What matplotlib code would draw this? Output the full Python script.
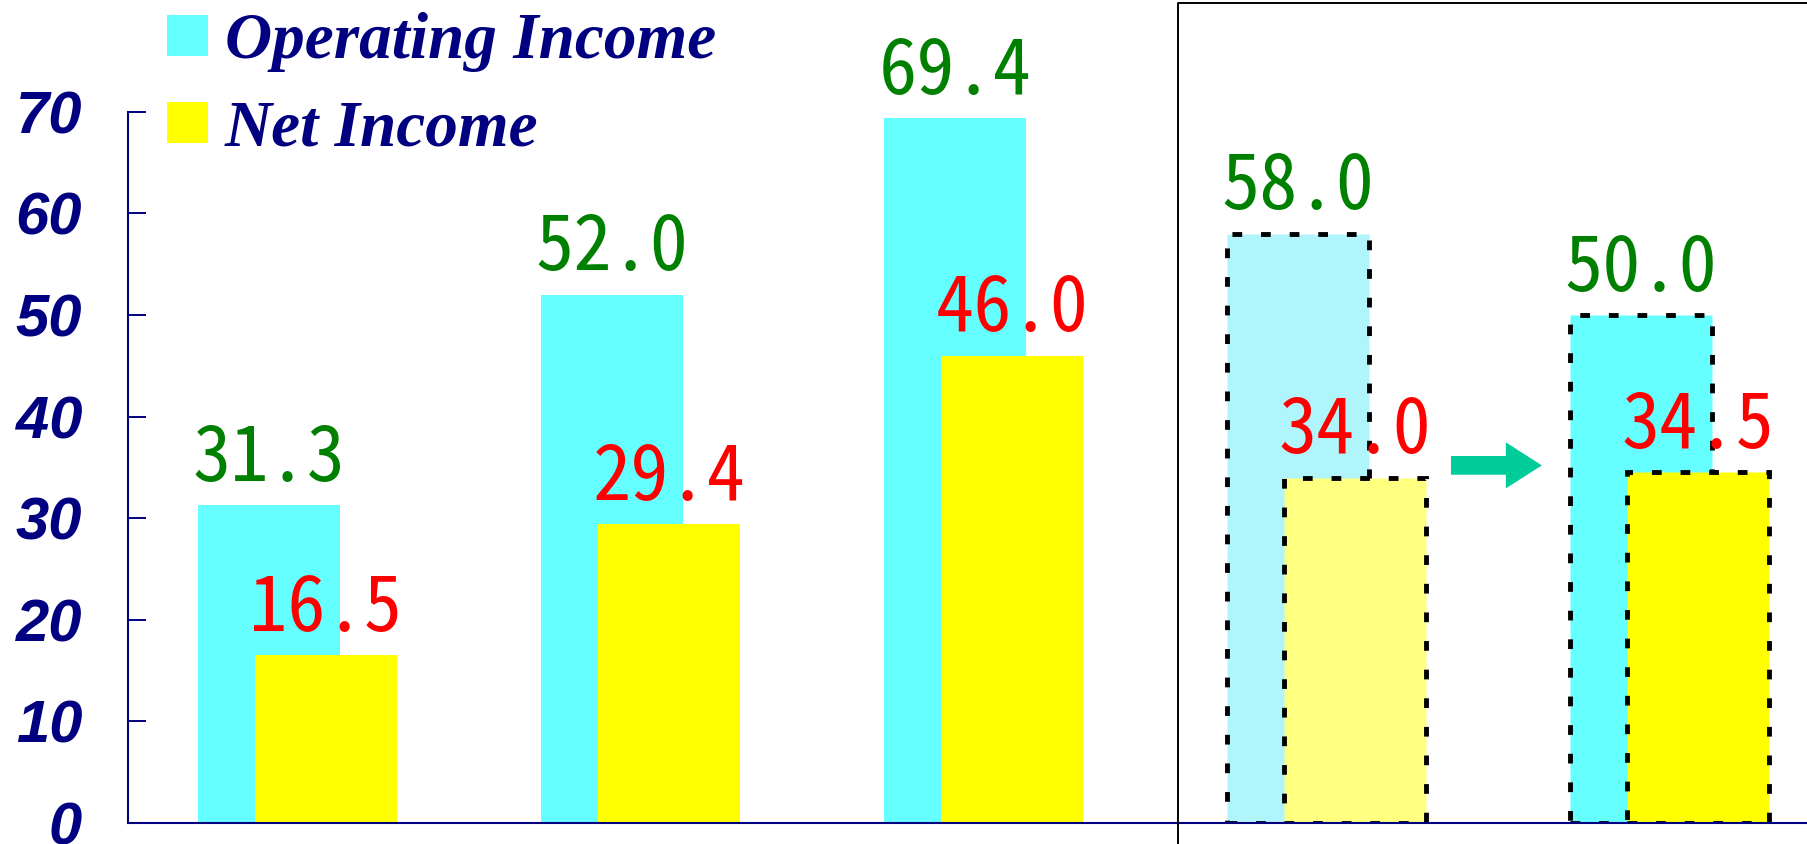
import matplotlib
matplotlib.use("Agg")
import matplotlib.pyplot as plt
import matplotlib.transforms as mtransforms
from matplotlib.patches import FancyArrow
from matplotlib.lines import Line2D
from matplotlib.font_manager import FontProperties

plt.rcParams["lines.scale_dashes"] = False

# ---------------- data ----------------
periods = ["FY-2", "FY-1", "FY0", "Forecast (previous)", "Forecast (revised)"]
operating_income = [31.3, 52.0, 69.4, 58.0, 50.0]
net_income = [16.5, 29.4, 46.0, 34.0, 34.5]
series_names = ["Operating Income", "Net Income"]
y_ticks = [0, 10, 20, 30, 40, 50, 60, 70]

# ---------------- style ----------------
NAVY = "#000080"
op_colors = ["#66FFFF", "#66FFFF", "#66FFFF", "#B0F4FC", "#66FFFF"]
net_colors = ["#FFFF00", "#FFFF00", "#FFFF00", "#FFFF80", "#FFFF00"]
dashed_outline = [False, False, False, True, True]
label_family = ["Noto Sans Mono CJK JP", "Liberation Sans"]

W, H, DPI = 1807, 844, 100
fig = plt.figure(figsize=(W / DPI, H / DPI), dpi=DPI)
ax = fig.add_axes([128 / W, 21 / H, 1679 / W, 812.8 / H])

x = list(range(len(periods)))
bar_w = 0.414
offset = 0.166

bc_op = ax.bar(x, operating_income, width=bar_w, color=op_colors,
               linewidth=0, zorder=2, label=series_names[0])
bc_net = ax.bar([xi + offset for xi in x], net_income, width=bar_w,
                color=net_colors, linewidth=0, zorder=2.1, label=series_names[1])

for cont in (bc_op, bc_net):
    for patch, d in zip(cont.patches, dashed_outline):
        if d:
            patch.set_edgecolor("black")
            patch.set_linewidth(3.5)
            patch.set_linestyle((0, (7.0, 13.6)))
            patch.set_capstyle("butt")

# value labels
for xi, v in zip(x, operating_income):
    ax.annotate(f"{v:.1f}", (xi, v), xytext=(0, 17.5), textcoords="offset points",
                ha="center", va="baseline", fontsize=55, color="#008000",
                family=label_family, zorder=5)
for xi, v in zip(x, net_income):
    ax.annotate(f"{v:.1f}", (xi + offset, v), xytext=(0, 17.5), textcoords="offset points",
                ha="center", va="baseline", fontsize=55, color="#FF0000",
                family=label_family, zorder=5)

# arrow between the two forecasts
arr_x0 = x[3] + 0.446
arr_y = 35.2
ax.add_patch(FancyArrow(arr_x0, arr_y, 0.265, 0, width=1.84, head_width=4.53,
                        head_length=0.105, length_includes_head=True,
                        color="#00CC99", linewidth=0, zorder=4))

# frame around the forecast area
box_x = x[2] + 0.65
trans = mtransforms.blended_transform_factory(ax.transData, fig.transFigure)
ax.add_artist(Line2D([box_x, box_x, x[-1] + 1.0], [-0.05, 1 - 3 / H, 1 - 3 / H],
                     transform=trans, color="black", linewidth=1.4, clip_on=False,
                     zorder=6))

# axes styling
ax.set_xlim(-0.411, 4.484)
ax.set_ylim(0, 80)
ax.set_yticks(y_ticks)
ax.set_xticks([])
for s in ("top", "right"):
    ax.spines[s].set_visible(False)
ax.spines["left"].set_bounds(0, 70)
for s in ("left", "bottom"):
    ax.spines[s].set_color(NAVY)
    ax.spines[s].set_linewidth(1.5)
ax.tick_params(axis="y", direction="in", length=13, width=1.4, color=NAVY,
               labelcolor=NAVY, labelsize=43, pad=33)
for lab in ax.get_yticklabels():
    lab.set_family("Liberation Sans")
    lab.set_fontweight("bold")
    lab.set_fontstyle("italic")

# legend
ax.legend(handles=[bc_op, bc_net], loc="upper left",
          bbox_to_anchor=(167 / W, 1 - 12.5 / H), bbox_transform=fig.transFigure,
          frameon=False,
          prop=FontProperties(family="Liberation Serif", weight="bold",
                              style="italic", size=47),
          labelcolor=NAVY, handlelength=0.63, handleheight=0.594,
          handletextpad=0.26, labelspacing=0.42, borderpad=0, borderaxespad=0)

fig.savefig("out.png", dpi=DPI)
